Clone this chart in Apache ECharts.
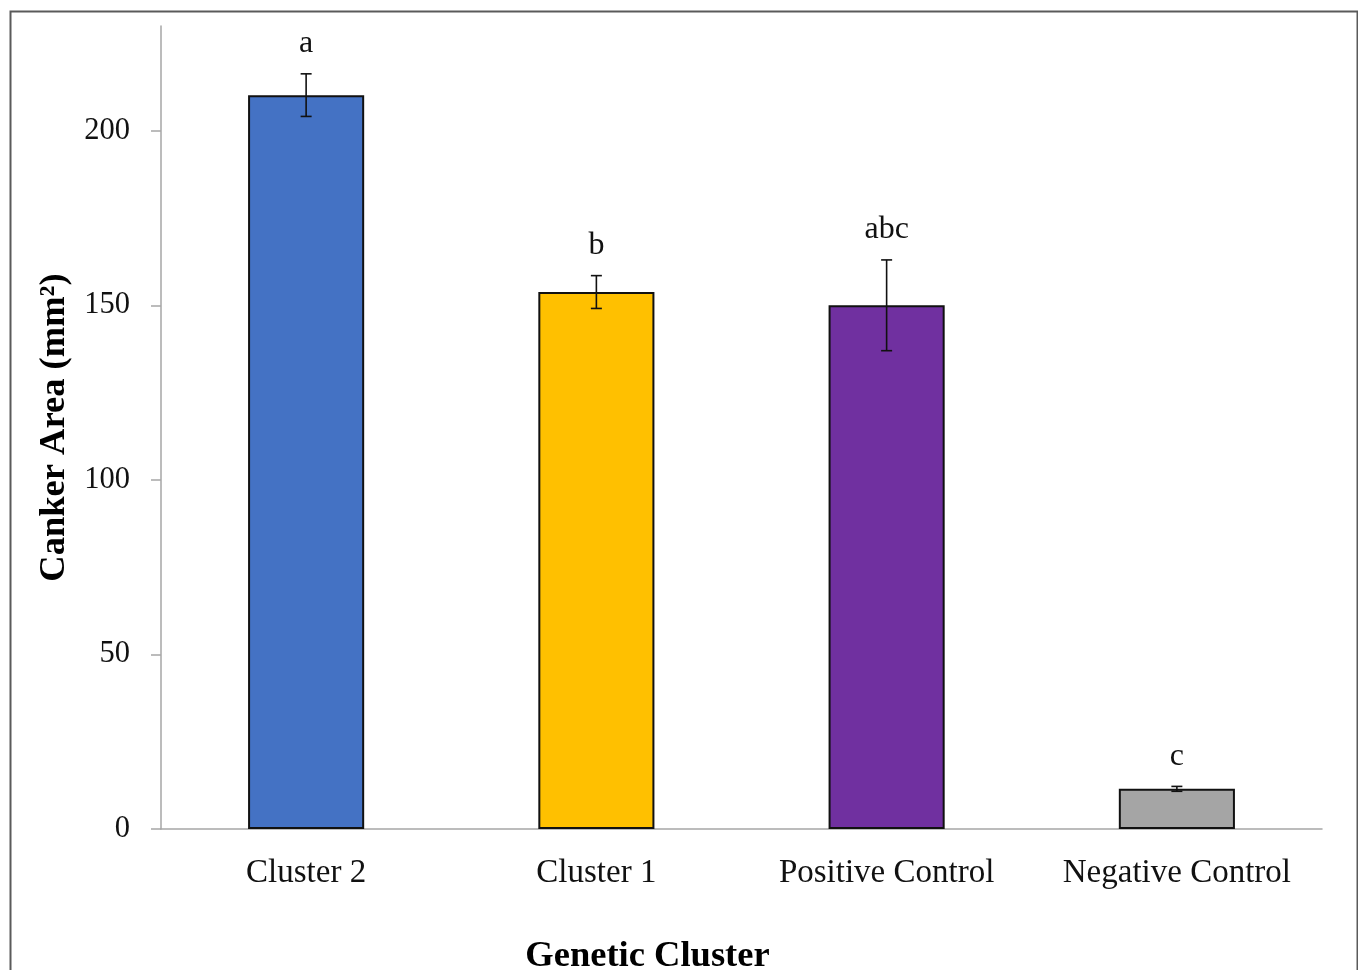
<!DOCTYPE html>
<html>
<head>
<meta charset="utf-8">
<style>
  html, body { margin: 0; padding: 0; background: #fff; }
  #chart { width: 1358px; height: 970px; }
</style>
<script src="https://cdn.jsdelivr.net/npm/echarts@6/dist/echarts.min.js"></script>
</head>
<body>
<div id="chart"></div>
<script>
// Canker area by genetic cluster (mean ± error, letters = significance groups)
const categories = ['Cluster 2', 'Cluster 1', 'Positive Control', 'Negative Control'];
const meanArea = [210.2, 153.8, 150.0, 11.5];
const errorArea = [6.1, 4.7, 13.0, 0.7];
const groupLetters = ['a', 'b', 'abc', 'c'];
const barColors = ['#4472C4', '#FFC000', '#7030A0', '#A5A5A5'];
const yTicks = [0, 50, 100, 150, 200];

const serif = '"Liberation Serif", "Times New Roman", serif';
const chart = echarts.init(document.getElementById('chart'), null, { renderer: 'canvas' });

const option = {
  backgroundColor: '#ffffff',
  animation: false,
  grid: { left: 161, right: 36, top: 26, bottom: 141, containLabel: false, outerBoundsMode: 'none' },
  graphic: [{
    type: 'rect',
    left: 8, top: 9,
    shape: { width: 1347, height: 1000 },
    style: { fill: 'none', stroke: '#5a5a5a', lineWidth: 2 },
    silent: true
  }],
  xAxis: {
    type: 'category',
    data: categories,
    name: 'Genetic Cluster',
    nameLocation: 'middle',
    nameGap: 109,
    nameTextStyle: { fontFamily: serif, fontSize: 36.5, fontWeight: 'bold', color: '#000', padding: [0, 188, 0, 0] },
    axisLine: { lineStyle: { color: '#a6a6a6', width: 1.5 } },
    axisTick: { show: false },
    axisLabel: { interval: 0, hideOverlap: false, fontFamily: serif, fontSize: 33, color: '#111', margin: 28 }
  },
  yAxis: {
    type: 'value',
    min: 0,
    max: 230,
    interval: 50,
    name: 'Canker Area (mm²)',
    nameLocation: 'middle',
    nameGap: 82,
    nameRotate: 90,
    nameTextStyle: { fontFamily: serif, fontSize: 36.5, fontWeight: 'bold', color: '#000' },
    axisLine: { show: true, lineStyle: { color: '#a6a6a6', width: 1.5 } },
    axisTick: { show: true, length: 10, customValues: yTicks, lineStyle: { color: '#a6a6a6', width: 1.5 } },
    axisLabel: { fontFamily: serif, fontSize: 30.5, color: '#111', margin: 31, customValues: yTicks },
    splitLine: { show: false }
  },
  series: [
    {
      type: 'bar',
      barWidth: '40%',
      data: meanArea.map((v, i) => ({
        value: v,
        itemStyle: { color: barColors[i], borderColor: '#111', borderWidth: 2 }
      })),
      z: 2
    },
    {
      // error bars with significance letters above
      type: 'custom',
      data: meanArea.map((v, i) => [i, v]),
      z: 5,
      renderItem: function (params, api) {
        const i = params.dataIndex;
        const x = api.coord([i, 0])[0];
        const top = api.coord([i, meanArea[i] + errorArea[i]])[1];
        const bot = api.coord([i, meanArea[i] - errorArea[i]])[1];
        const cap = 5.5;
        const st = { stroke: '#111', lineWidth: 1.6 };
        return {
          type: 'group',
          children: [
            { type: 'line', shape: { x1: x, y1: top, x2: x, y2: bot }, style: st },
            { type: 'line', shape: { x1: x - cap, y1: top, x2: x + cap, y2: top }, style: st },
            { type: 'line', shape: { x1: x - cap, y1: bot, x2: x + cap, y2: bot }, style: st },
            {
              type: 'text',
              x: x, y: top - 30,
              style: {
                text: groupLetters[i],
                fontFamily: serif, fontSize: 32, fill: '#111',
                align: 'center', verticalAlign: 'middle'
              }
            }
          ]
        };
      }
    }
  ]
};

chart.setOption(option);
</script>
</body>
</html>
